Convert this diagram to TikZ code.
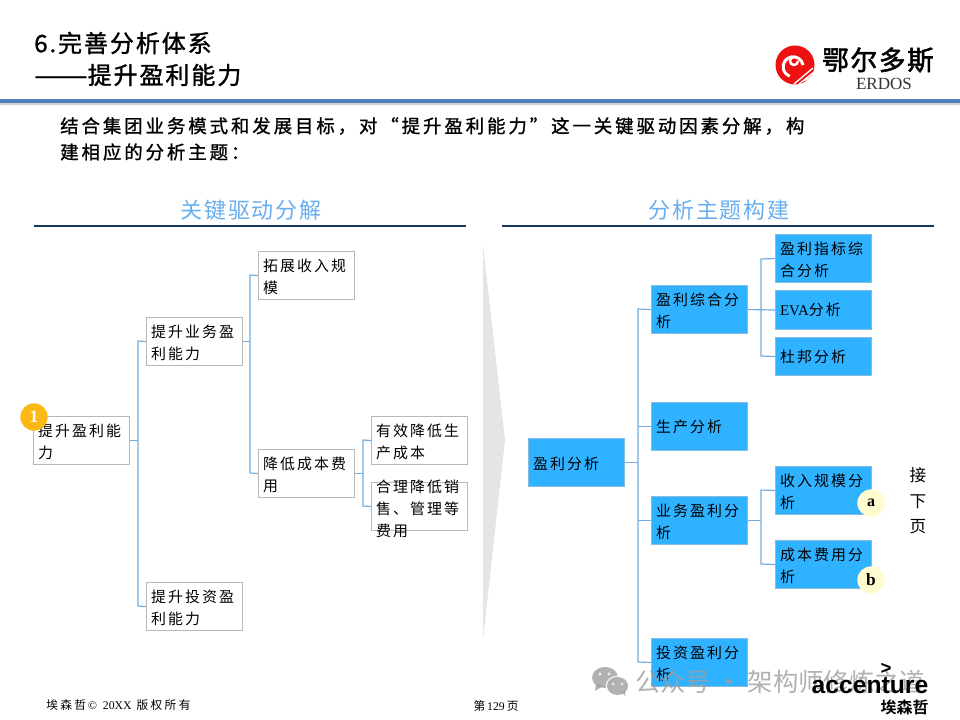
\documentclass[tikz,border=0pt]{standalone}
\usepackage{fontspec}
\setmainfont{Liberation Serif}
\newfontfamily\cjk[LetterSpace=14]{Noto Sans CJK SC}
\newfontfamily\cjkt[LetterSpace=8,FakeBold=1.2]{Noto Sans CJK SC}
\newfontfamily\cjki[LetterSpace=16,FakeBold=1.2]{Noto Sans CJK SC}
\newfontfamily\cjkh[LetterSpace=8]{Noto Sans CJK SC}
\newfontfamily\cjkf[LetterSpace=20]{Noto Sans CJK SC}
\newfontfamily\cjkl[LetterSpace=6,FakeBold=2]{Noto Sans CJK SC}
\newfontfamily\cjkp{Noto Sans CJK SC}
\newfontfamily\cjkbold{Noto Sans CJK SC Bold}
\newfontfamily\acc{Liberation Sans Bold}
\newfontfamily\lat{Liberation Serif}
\definecolor{boxline}{HTML}{B8B8B8}
\definecolor{blueline}{HTML}{74AEE0}
\definecolor{bluefill}{HTML}{2FB2FF}
\definecolor{blueedge}{HTML}{86BBE3}
\definecolor{headblue}{HTML}{69AEEE}
\definecolor{rulenavy}{HTML}{17375E}
\definecolor{topbar}{HTML}{4F81BD}
\definecolor{badgeorange}{HTML}{FDB913}
\definecolor{badgecream}{HTML}{FFFBCF}
\definecolor{logored}{HTML}{EE1111}
\tikzset{
  x=0.75pt,y=-0.75pt,
  txt/.style={font=\fontsize{11.2pt}{16.5pt}\selectfont\cjk,text=black,align=left,anchor=north west,inner sep=0pt},
  wbox/.style={draw=boxline,line width=0.8pt,fill=white,minimum width=72pt,minimum height=36pt,inner sep=0pt,anchor=north west},
  bbox/.style={draw=blueedge,line width=0.8pt,fill=bluefill,minimum width=72pt,minimum height=36pt,inner sep=0pt,anchor=north west},
  link/.style={draw=blueline,line width=0.9pt},
  head/.style={font=\fontsize{16.5pt}{20pt}\selectfont\cjkh,text=headblue,inner sep=0pt},
  intro/.style={font=\fontsize{13.8pt}{20pt}\selectfont\cjki,text=black,anchor=west,inner sep=0pt},
  titlet/.style={font=\fontsize{18pt}{22pt}\selectfont\cjkt,text=black,anchor=west,inner sep=0pt},
  badge/.style={circle,minimum size=20.5pt,inner sep=0pt}
}
\newcommand{\wnode}[5]{\node[wbox,minimum height=#3*0.75pt] (#1) at (#2) {}; \node[txt] at ([xshift=3.6pt,yshift=-#4]#1.north west) {#5};}
\newcommand{\bnode}[5]{\node[bbox,minimum height=#3*0.75pt] (#1) at (#2) {}; \node[txt] at ([xshift=3.6pt,yshift=-#4]#1.north west) {#5};}
\begin{document}
\begin{tikzpicture}
\useasboundingbox (0,0) rectangle (960,720);
\fill[white] (0,0) rectangle (960,720);
% title
\node[titlet] (t1) at (34,43) {6.完善分析体系};
\node[titlet] (t2) at (34,75) {\scalebox{1.33}[1]{——}提升盈利能力};
% top bar
\fill[black!18] (0,103) rectangle (960,105.5);
\fill[topbar] (0,99.5) rectangle (960,103);
% logo
\fill[logored] (795,65) circle (19.5);
\draw[white,line width=1.8pt] (798,61) arc (0:300:4);
\draw[white,line width=2.2pt] (803,65) arc (-10:-250:10);
\draw[white,line width=1pt] (794,84) -- (813,68);
\draw[white,line width=1pt] (799,84) -- (814,72);
\draw[white,line width=1pt] (804,81) -- (814,75);
\node[font=\fontsize{20pt}{22pt}\selectfont\cjkl,text=black,inner sep=0pt] (logot) at (878,60) {鄂尔多斯};
\node[font=\fontsize{12.8pt}{14pt}\selectfont,text=black!80,inner sep=0pt] (erdos) at (884,84) {ERDOS};
% intro
\node[intro] (i1) at (60,126) {结合集团业务模式和发展目标，对“提升盈利能力”这一关键驱动因素分解，构};
\node[intro] (i2) at (60,152) {建相应的分析主题：};
% section headings
\node[head] (h1) at (251,210) {关键驱动分解};
\node[head] (h2) at (719,210) {分析主题构建};
\coordinate (r1a) at (34,226); \coordinate (r1b) at (466,226);
\coordinate (r2a) at (502,226); \coordinate (r2b) at (934,226);
\draw[rulenavy,line width=0.8pt] (r1a) -- (r1b);
\draw[rulenavy,line width=0.8pt] (r2a) -- (r2b);
% chevron
\fill[black!10] (483,245) -- (505,440) -- (483,640) -- cycle;
% left connectors coordinates
\coordinate (lt1) at (138,341);
\coordinate (lt2) at (138,606);
\coordinate (lu1) at (250,275);
\coordinate (lu2) at (250,473);
\coordinate (lv1) at (363,440);
\coordinate (lv2) at (363,506);
% right connector coordinates
\coordinate (rt1) at (638,309);
\coordinate (rt2) at (638,662);
\coordinate (ru1) at (761,259);
\coordinate (ru2) at (761,356);
\coordinate (rv1) at (761,490);
\coordinate (rv2) at (761,564);
% left boxes
\wnode{root}{33,416}{48}{5.5pt}{提升盈利能\\力}
\wnode{a1}{146,317}{48}{5.5pt}{提升业务盈\\利能力}
\wnode{a2}{146,582}{48}{5.5pt}{提升投资盈\\利能力}
\wnode{b1}{258,251}{48}{5.5pt}{拓展收入规\\模}
\wnode{b2}{258,449}{48}{5.5pt}{降低成本费\\用}
\wnode{c1}{371,416}{48}{5.5pt}{有效降低生\\产成本}
\wnode{c2}{371,482}{48}{-2pt}{合理降低销\\售、管理等\\费用}
% right boxes
\bnode{m}{528,438}{48}{13.7pt}{盈利分析}
\bnode{d1}{651,285}{48}{5.5pt}{盈利综合分\\析}
\bnode{d2}{651,402}{48}{13pt}{生产分析}
\bnode{d3}{651,496}{48}{5.5pt}{业务盈利分\\析}
\bnode{d4}{651,638}{48}{5.5pt}{投资盈利分\\析}
\bnode{e1}{775,234}{48}{5.5pt}{盈利指标综\\合分析}
\bnode{e2}{775,290}{39}{9.2pt}{{\lat EVA}分析}
\bnode{e3}{775,337}{38}{9.5pt}{杜邦分析}
\bnode{e4}{775,466}{48}{5.5pt}{收入规模分\\析}
\bnode{e5}{775,540}{48}{5.5pt}{成本费用分\\析}
% connectors left
\draw[link] (root.east) -- (root.east -| lt1);
\draw[link] (a1.west) -- (lt1) -- (lt2) -- (a2.west);
\draw[link] (a1.east) -- (a1.east -| lu1);
\draw[link] (b1.west) -- (lu1) -- (lu2) -- (b2.west);
\draw[link] (b2.east) -- (b2.east -| lv1);
\draw[link] (c1.west) -- (lv1) -- (lv2) -- (c2.west);
% connectors right
\draw[link] (m.east) -- (m.east -| rt1);
\draw[link] (d1.west) -- (rt1) -- (rt2) -- (d4.west);
\draw[link] (d2.west) -- (d2.west -| rt1);
\draw[link] (d3.west) -- (d3.west -| rt1);
\draw[link] (d1.east) -- (e2.west);
\draw[link] (e1.west) -- (ru1) -- (ru2) -- (e3.west);
\draw[link] (d3.east) -- (d3.east -| rv1);
\draw[link] (e4.west) -- (rv1) -- (rv2) -- (e5.west);
% markers
\node[badge,fill=badgeorange,text=white,font=\bfseries\fontsize{13pt}{13pt}\selectfont] (n1) at (34,417) {1};
\node[badge,fill=badgecream,font=\bfseries\fontsize{12pt}{12pt}\selectfont] (na) at (871,503) {a};
\node[badge,fill=badgecream,font=\bfseries\fontsize{13pt}{13pt}\selectfont] (nb) at (871,580) {b};
% next page
\node[font=\fontsize{12.5pt}{19pt}\selectfont\cjkp,align=center,inner sep=0pt] (nx) at (918,501) {接\\下\\页};
% watermark
\begin{scope}[opacity=0.8]
\fill[black!38] (605,677.5) ellipse (13 and 10.5);
\fill[black!38] (596,684) -- (595,691) -- (603,686) -- cycle;
\fill[white] (617.5,686) ellipse (12 and 10.5);
\fill[black!38] (617.5,686) ellipse (10.5 and 9);
\fill[black!38] (622,692) -- (625,696) -- (625,690) -- cycle;
\fill[white] (600,674) circle (1.7) (609,674) circle (1.7) (613,684) circle (1.5) (622,684) circle (1.5);
\node[font=\fontsize{19pt}{20pt}\selectfont\cjkp,text=black!38,anchor=west,inner sep=0pt] (wm) at (635,682) {公众号 · 架构师修炼之道};
\end{scope}
% accenture
\node[font=\fontsize{18.5pt}{20pt}\selectfont\acc,text=black,inner sep=0pt] (acc) at (870,686) {accenture};
\node[font=\fontsize{14pt}{14pt}\selectfont\acc,text=black,inner sep=0pt] (gt) at (886,669) {>};
\node[font=\fontsize{12pt}{14pt}\selectfont\cjkbold,text=black,anchor=east,inner sep=0pt] (aj) at (929,707) {埃森哲};
% footer
\node[font=\fontsize{8.8pt}{10pt}\selectfont\cjkf,anchor=west,inner sep=0pt] (fl) at (46,705) {埃森哲{\lat\,©\ \ 20XX} 版权所有};
\node[font=\fontsize{8.8pt}{10pt}\selectfont\cjkp,anchor=center,inner sep=0pt] (fr) at (496,706) {第{\lat\,129\,}页};
\end{tikzpicture}
\end{document}
